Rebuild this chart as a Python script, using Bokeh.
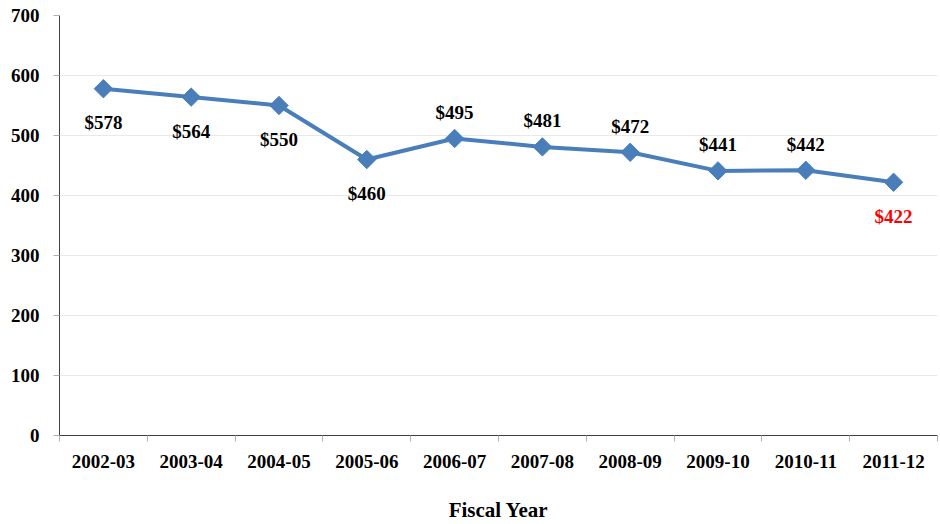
import math
from bokeh.plotting import figure
from bokeh.models import FixedTicker, ColumnDataSource, Range1d
from bokeh.embed import file_html
from bokeh.resources import INLINE
from bokeh.core.properties import value

# ---- data ----
fiscal_years = ["2002-03", "2003-04", "2004-05", "2005-06", "2006-07",
                "2007-08", "2008-09", "2009-10", "2010-11", "2011-12"]
costs = [578, 564, 550, 460, 495, 481, 472, 441, 442, 422]
label_side = ["below", "below", "below", "below", "above",
              "above", "above", "above", "above", "below"]
y_ticks = [0, 100, 200, 300, 400, 500, 600, 700]

FONT = "Liberation Serif"
n = len(fiscal_years)
xs = [i + 0.5 for i in range(n)]
labels = ["$%d" % v for v in costs]
offsets = [34 if s == "below" else -26 for s in label_side]
colors = ["#FF0000" if i == n - 1 else "#000000" for i in range(n)]

src = ColumnDataSource(dict(x=xs, y=costs, label=labels, off=offsets, color=colors))

p = figure(width=940, height=524, output_backend="svg", toolbar_location=None,
           x_range=Range1d(0, n), y_range=Range1d(0, 700),
           min_border_left=59, min_border_top=15, min_border_right=3, min_border_bottom=86)
p.outline_line_color = None
p.background_fill_color = "white"

# grid
p.xgrid.grid_line_color = None
p.ygrid.grid_line_color = "#e9e9e9"
p.ygrid.grid_line_width = 1

# y axis
p.yaxis.ticker = FixedTicker(ticks=y_ticks)
p.yaxis.axis_line_color = "#404040"
p.yaxis.major_tick_line_color = "#b0b0b0"
p.yaxis.major_tick_out = 6
p.yaxis.major_tick_in = 0
p.yaxis.minor_tick_line_color = None
p.yaxis.major_label_text_font = FONT
p.yaxis.major_label_text_font_style = "bold"
p.yaxis.major_label_text_font_size = "19px"
p.yaxis.major_label_text_color = "#000000"
p.yaxis.major_label_standoff = 14

# x axis
p.xaxis.ticker = FixedTicker(ticks=xs, minor_ticks=list(range(n + 1)))
p.xaxis.major_label_overrides = {x: fy for x, fy in zip(xs, fiscal_years)}
p.xaxis.axis_line_color = "#404040"
p.xaxis.major_tick_line_color = None
p.xaxis.major_tick_out = 0
p.xaxis.major_tick_in = 0
p.xaxis.minor_tick_line_color = "#b0b0b0"
p.xaxis.minor_tick_out = 6
p.xaxis.minor_tick_in = 0
p.xaxis.major_label_text_font = FONT
p.xaxis.major_label_text_font_style = "bold"
p.xaxis.major_label_text_font_size = "19px"
p.xaxis.major_label_text_color = "#000000"
p.xaxis.major_label_standoff = 13
p.xaxis.axis_label = "Fiscal Year"
p.xaxis.axis_label_text_font = FONT
p.xaxis.axis_label_text_font_style = "bold"
p.xaxis.axis_label_text_font_size = "21px"
p.xaxis.axis_label_text_color = "#000000"
p.xaxis.axis_label_standoff = 27

# series
p.line("x", "y", source=src, line_color="#4A7EBB", line_width=4)
p.scatter("x", "y", source=src, marker="square", size=13, angle=math.pi / 4,
          fill_color="#4A7EBB", line_color="#4A7EBB")
p.text("x", "y", text="label", source=src, y_offset="off",
       text_align="center", text_baseline="middle",
       text_font=value(FONT), text_font_style="bold", text_font_size="19px",
       text_color="color")

open("out.html", "w").write(file_html(p, INLINE))
